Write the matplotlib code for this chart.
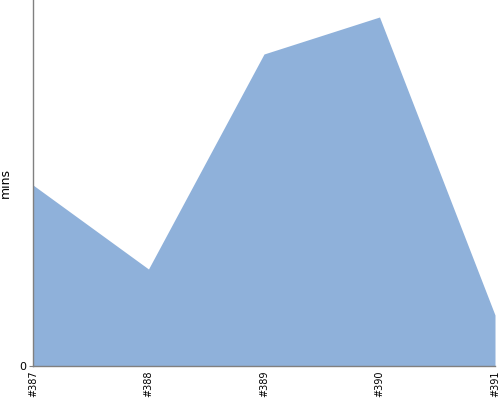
import matplotlib
matplotlib.use("Agg")
import matplotlib.pyplot as plt

categories = ["#387", "#388", "#389", "#390", "#391"]
values = [181, 97, 312, 349, 51]

fig = plt.figure(figsize=(5, 4), dpi=100)
ax = fig.add_axes([0.066, 0.085, 0.924, 0.915])
x = list(range(len(categories)))
ax.fill_between(x, values, 0, color="#8fb1da", linewidth=0)
ax.set_xlim(0, len(categories) - 1)
ax.set_ylim(0, 366)
ax.set_xticks(x)
ax.set_xticklabels(categories, rotation=90, fontsize=7)
ax.set_yticks([0])
ax.set_yticklabels(["0"], fontsize=8)
ax.set_ylabel("mins", fontsize=9)
ax.yaxis.set_label_coords(-0.046, 0.5)
for s in ["top", "right"]:
    ax.spines[s].set_visible(False)
for s in ["left", "bottom"]:
    ax.spines[s].set_color("#808080")
    ax.spines[s].set_linewidth(1)
ax.tick_params(axis="x", length=0, pad=3)
ax.tick_params(axis="y", length=3, color="#808080", pad=2)
fig.savefig("out.png", dpi=100)
